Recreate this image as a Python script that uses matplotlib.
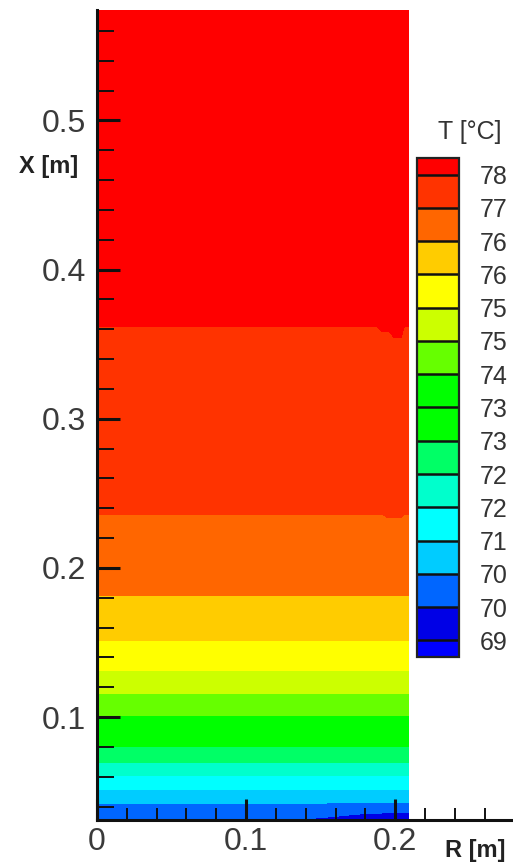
import matplotlib
matplotlib.use('Agg')
import numpy as np
import matplotlib.pyplot as plt
from matplotlib.ticker import MultipleLocator

plt.rcParams['font.family'] = ['Liberation Sans', 'DejaVu Sans']

# ---------------- data ----------------
# contour levels (T in degC) and their legend labels
levels = [69.0, 69.64, 70.29, 70.93, 71.57, 72.21, 72.86, 73.5,
          74.14, 74.79, 75.43, 76.07, 76.71, 77.36, 78.0]
level_labels = ['69', '70', '70', '71', '72', '72', '73', '73',
                '74', '75', '75', '76', '76', '77', '78']
# band colours: under, 14 inner bands, over
band_colors = ['#0000ff', '#0000e6', '#0066ff', '#00ccff', '#00ffff',
               '#00ffcc', '#00ff66', '#00ff00', '#00ff00', '#66ff00',
               '#ccff00', '#ffff00', '#ffcc00', '#ff6600', '#ff3300',
               '#ff0000']
# X position [m] of each level boundary on the axis (R = 0)
boundary_x = [0.015, 0.025, 0.0424, 0.0511, 0.0604, 0.0691, 0.0799, 0.090,
              0.1007, 0.1158, 0.1308, 0.1510, 0.1818, 0.2355, 0.3616]
# end values of the temperature profile (below / above shown range)
end_x = [0.0, 0.6]
end_t = [68.4, 78.6]
# wall deviations of some boundaries
l2_r = [0.0, 0.135, 0.14, 0.16, 0.18, 0.209]
l2_x = [0.025, 0.025, 0.0318, 0.0335, 0.0355, 0.036]
l14_r = [0.0, 0.192, 0.195, 0.204, 0.206, 0.209]
l14_x = [0.2355, 0.2355, 0.2335, 0.2335, 0.2355, 0.2355]
l15_r = [0.0, 0.188, 0.191, 0.196, 0.199, 0.204, 0.206, 0.209]
l15_x = [0.3616, 0.3616, 0.3585, 0.3585, 0.3545, 0.3545, 0.3616, 0.3616]
# domain
r_max = 0.209
x_min, x_max = 0.031, 0.574
# ticks
xtick_vals = [0.0, 0.1, 0.2]
xtick_labels = ['0', '0.1', '0.2']
ytick_vals = [0.1, 0.2, 0.3, 0.4, 0.5]
ytick_labels = ['0.1', '0.2', '0.3', '0.4', '0.5']

# ---------------- field ----------------
r = np.linspace(0.0, r_max, 420)
x = np.linspace(0.0, x_max, 1400)
T = np.empty((x.size, r.size))
for j, rj in enumerate(r):
    b = list(boundary_x)
    b[1] = np.interp(rj, l2_r, l2_x)
    b[13] = np.interp(rj, l14_r, l14_x)
    b[14] = np.interp(rj, l15_r, l15_x)
    T[:, j] = np.interp(x, [end_x[0]] + b + [end_x[1]],
                        [end_t[0]] + levels + [end_t[1]])
RR, XX = np.meshgrid(r, x)

# ---------------- figure ----------------
fig = plt.figure(figsize=(5.13, 8.63), dpi=100)
ax = fig.add_axes([97 / 513, 43 / 863, 0.28 * 1491 / 513, 810 / 863])
cf = ax.contourf(RR, XX, T, levels=levels, colors=band_colors, extend='both')
ax.set_xlim(0, 0.28)
ax.set_ylim(x_min, x_max)

for s in ['top', 'right']:
    ax.spines[s].set_visible(False)
for s in ['left', 'bottom']:
    ax.spines[s].set_linewidth(2.2)
    ax.spines[s].set_color('#111111')

ax.set_xticks(xtick_vals)
ax.set_xticklabels(xtick_labels)
ax.set_yticks(ytick_vals)
ax.set_yticklabels(ytick_labels)
ax.xaxis.set_minor_locator(MultipleLocator(0.02))
ax.yaxis.set_minor_locator(MultipleLocator(0.02))
ax.tick_params(axis='y', which='major', direction='in', length=16.5, width=2.2,
               labelsize=23, pad=8, labelcolor='#3a3a3a', color='#111111')
ax.tick_params(axis='y', which='minor', direction='in', length=12, width=1.4,
               color='#111111')
ax.tick_params(axis='x', which='major', direction='in', length=15, width=2.2,
               labelsize=23, pad=5, labelcolor='#3a3a3a', color='#111111')
ax.tick_params(axis='x', which='minor', direction='in', length=8.5, width=1.4,
               color='#111111')

fig.text(49 / 513, 1 - 166 / 863, 'X [m]', ha='center', va='center',
         fontsize=17, fontweight='bold', color='#222222')
fig.text(475 / 513, 1 - 850 / 863, 'R [m]', ha='center', va='center',
         fontsize=17, fontweight='bold', color='#222222')
fig.text(470 / 513, 1 - 132 / 863, 'T [°C]', ha='center', va='center',
         fontsize=18, color='#333333')

cax = fig.add_axes([417 / 513, (863 - 657) / 863, 42 / 513, 499 / 863])
cb = fig.colorbar(cf, cax=cax, ticks=levels, extendrect=True,
                  extendfrac=0.5 / 14, drawedges=True, spacing='uniform')
cb.set_ticklabels(level_labels)
cb.ax.tick_params(length=0, labelsize=18, pad=15, labelcolor='#333333')
cb.outline.set_linewidth(1.6)
cb.outline.set_edgecolor('#222222')
cb.dividers.set_linewidth(1.8)
cb.dividers.set_color('#111111')

fig.savefig('out.png', dpi=100)
